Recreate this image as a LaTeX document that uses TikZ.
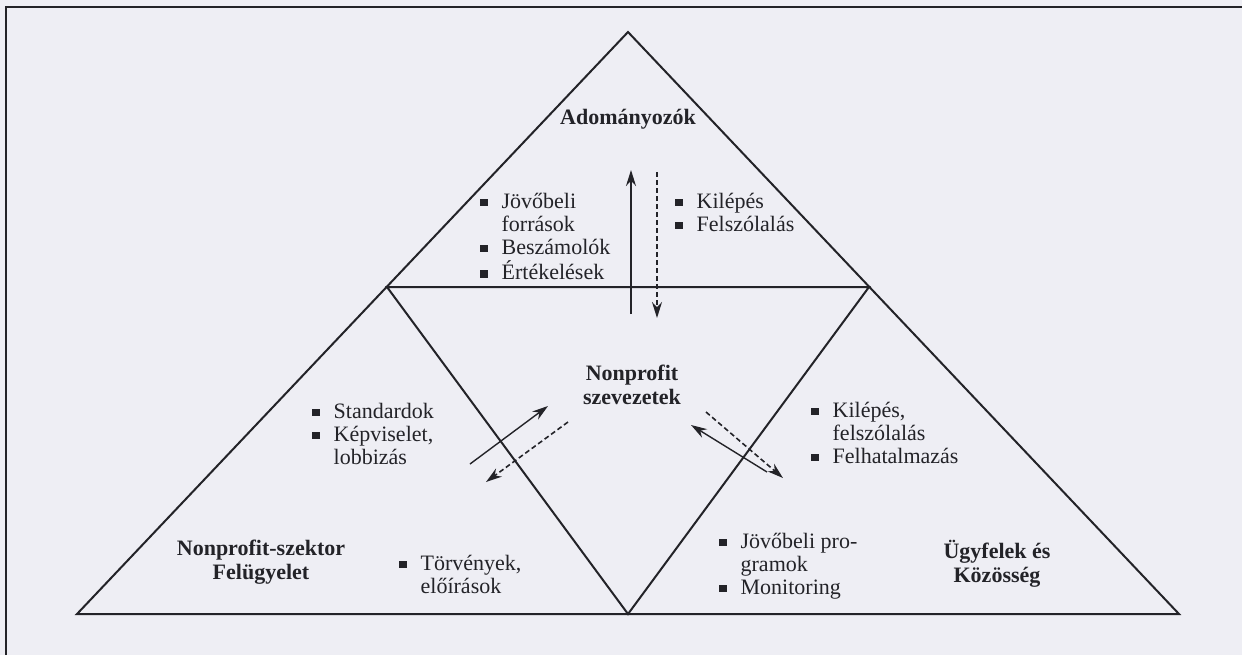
\documentclass[tikz,border=0pt]{standalone}
\usepackage{fontspec}
\setmainfont{Liberation Serif}
\usetikzlibrary{arrows.meta}
\definecolor{paper}{RGB}{238,238,244}
\definecolor{ink}{RGB}{35,35,40}
\newcommand{\sqbul}{\rule[0.1em]{0.33em}{0.33em}}
\newcommand{\itemlist}[1]{\begin{tabular}[t]{@{}l@{\hspace{7pt}}l@{}}#1\end{tabular}}
\newcommand{\titlelines}[1]{\begin{tabular}[t]{@{}c@{}}#1\end{tabular}}

\begin{document}
\begin{tikzpicture}[x=0.5pt,y=-0.5pt,
  >={Stealth[length=8pt,width=5pt]},
  side/.style={draw=ink,line width=1pt,line join=miter},
  edgeline/.style={draw=ink,line width=1pt},
  lst/.style={inner sep=0pt,anchor=base west,text=ink,font=\fontsize{11}{11.5}\selectfont},
  ttl/.style={inner sep=0pt,anchor=base,text=ink,font=\fontsize{11}{12}\selectfont\bfseries},
  flow/.style={->,ink,line width=0.7pt},
  backflow/.style={->,ink,line width=0.8pt,dash pattern=on 2.5pt off 1.5pt},
]
\useasboundingbox (0,0) rectangle (1242,655);
\fill[paper] (0,0) rectangle (1242,655);
% ---- page frame ----
\draw[edgeline] (6,655) -- (6,7) -- (1242,7);
% ---- triangles ----
\coordinate (apex) at (628,32);
\coordinate (bl) at (77,614);
\coordinate (br) at (1179,614);
\coordinate (ml) at (387,287);
\coordinate (mr) at (869,287);
\coordinate (mb) at (628,614);
\draw[side] (apex) -- (bl) -- (br) -- cycle;
\draw[side] (ml) -- (mr) -- (mb) -- cycle;
% ---- top: donors ----
\node[ttl] (donors) at (628,124) {Adományozók};
\node[lst] (donorgive) at (480,208) {\itemlist{\sqbul & Jövőbeli\\ & források\\ \sqbul & Beszámolók\\ \sqbul & Értékelések}};
\node[lst] (donorexit) at (675,208) {\itemlist{\sqbul & Kilépés\\ \sqbul & Felszólalás}};
% ---- centre: organisations ----
\node[ttl] (orgs) at (632,380) {\titlelines{Nonprofit\\szevezetek}};
% ---- bottom left: sector ----
\node[ttl] (sector) at (261,555) {\titlelines{Nonprofit-szektor\\Felügyelet}};
\node[lst] (sectorgive) at (312,418) {\itemlist{\sqbul & Standardok\\ \sqbul & Képviselet,\\ & lobbizás}};
\node[lst] (sectorlaw) at (399,570) {\itemlist{\sqbul & Törvények,\\ & előírások}};
% ---- bottom right: clients ----
\node[ttl] (clients) at (997,558) {\titlelines{Ügyfelek és\\Közösség}};
\node[lst] (clientexit) at (811,417) {\itemlist{\sqbul & Kilépés,\\ & felszólalás\\ \sqbul & Felhatalmazás}};
\node[lst] (clientplan) at (719,548) {\itemlist{\sqbul & Jövőbeli pro-\\ & gramok\\ \sqbul & Monitoring}};
% ---- arrow ends ----
\coordinate (upfoot) at (631,314);
\coordinate (uptip) at (631,170);
\coordinate (downfoot) at (657,172);
\coordinate (downtip) at (657,318);
\coordinate (lsfoot) at (470,464);
\coordinate (lstip) at (548,406);
\coordinate (ldfoot) at (568,422);
\coordinate (ldtip) at (486,482);
\coordinate (rsfoot) at (767,472);
\coordinate (rstip) at (691,425);
\coordinate (rdfoot) at (706,412);
\coordinate (rdtip) at (783,478);
\draw[flow] (upfoot) -- (uptip);
\draw[backflow] (downfoot) -- (downtip);
\draw[flow] (lsfoot) -- (lstip);
\draw[backflow] (ldfoot) -- (ldtip);
\draw[flow] (rsfoot) -- (rstip);
\draw[backflow] (rdfoot) -- (rdtip);
\end{tikzpicture}
\end{document}
